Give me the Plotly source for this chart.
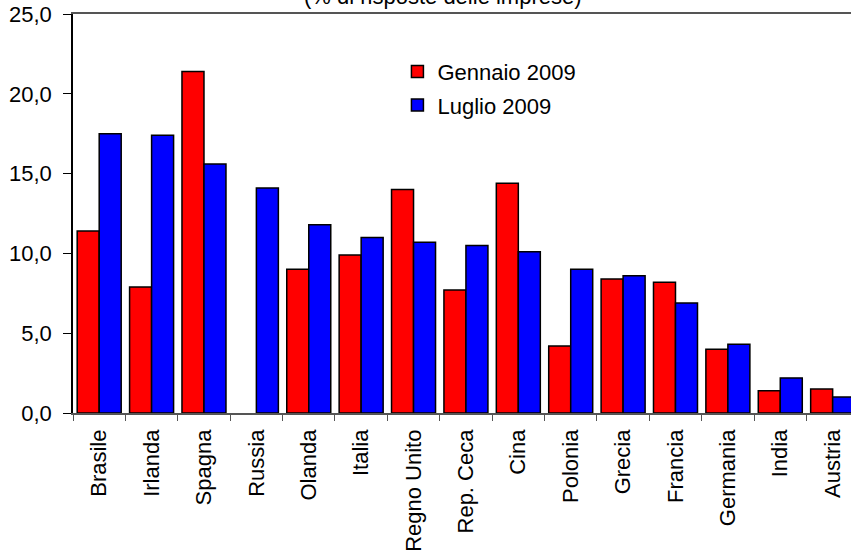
import plotly.graph_objects as go

# Share of firms' responses by country, January vs July 2009
countries = ["Brasile", "Irlanda", "Spagna", "Russia", "Olanda", "Italia", "Regno Unito",
             "Rep. Ceca", "Cina", "Polonia", "Grecia", "Francia", "Germania", "India", "Austria"]
gennaio_2009 = [11.4, 7.9, 21.4, None, 9.0, 9.9, 14.0, 7.7, 14.4, 4.2, 8.4, 8.2, 4.0, 1.4, 1.5]
luglio_2009 = [17.5, 17.4, 15.6, 14.1, 11.8, 11.0, 10.7, 10.5, 10.1, 9.0, 8.6, 6.9, 4.3, 2.2, 1.0]
y_ticks = [0, 5, 10, 15, 20, 25]

FONT = "Liberation Sans, Arial, sans-serif"

fig = go.Figure()
fig.add_trace(go.Bar(
    x=countries, y=gennaio_2009, name="Gennaio 2009", legendgroup="g",
    marker=dict(color="#ff0000", line=dict(color="black", width=1.5)),
))
fig.add_trace(go.Bar(
    x=countries, y=luglio_2009, name="Luglio 2009", legendgroup="l",
    marker=dict(color="#0000ff", line=dict(color="black", width=1.5)),
))

fig.update_layout(
    width=851, height=557,
    margin=dict(l=73, r=0, t=14, b=144),
    paper_bgcolor="white", plot_bgcolor="white",
    font=dict(family=FONT, size=22, color="black"),
    separators=",.",
    barmode="group", bargap=0.16, bargroupgap=0,
    showlegend=True,
    legend=dict(
        x=0.417, y=0.908, xanchor="left", yanchor="top",
        bgcolor="rgba(0,0,0,0)", font=dict(size=22),
        traceorder="grouped", tracegroupgap=2,
        itemwidth=30,
    ),
    annotations=[dict(
        text="(% di risposte delle imprese)", xref="paper", yref="paper",
        x=0.4756, y=1.045, xanchor="center", yanchor="middle",
        showarrow=False, font=dict(size=22),
    )],
)

fig.update_xaxes(
    type="category", range=[-0.5, 14.35],
    showline=True, linecolor="#555555", linewidth=1.5, mirror=True,
    tickson="boundaries", ticks="outside", ticklen=6, tickcolor="#555555",
    tickangle=-90, ticklabelstandoff=6, showgrid=False, zeroline=False,
)
fig.update_yaxes(
    range=[0, 25], tickvals=y_ticks, tickformat=".1f",
    showline=True, linecolor="black", linewidth=1.5,
    ticks="outside", ticklen=8, tickcolor="black", ticklabelstandoff=7,
    showgrid=False, zeroline=False,
)

fig.write_html("out.html")
